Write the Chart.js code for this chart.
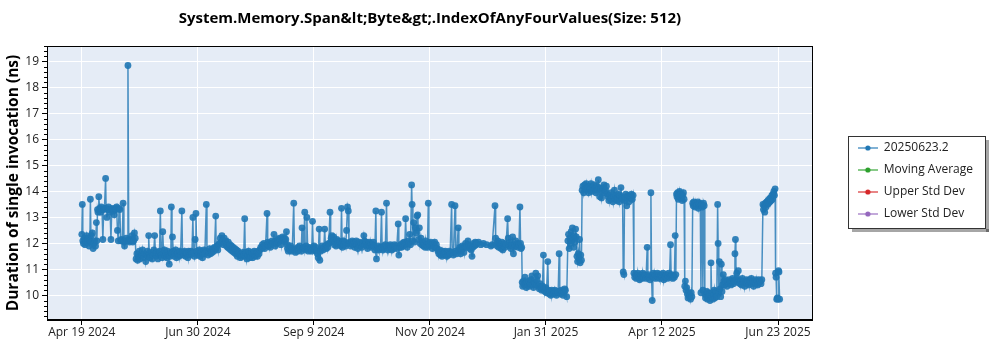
<!DOCTYPE html>
<html>
<head>
<meta charset="utf-8">
<script src="https://cdn.jsdelivr.net/npm/chart.js@4.4.1/dist/chart.umd.min.js"></script>
<style>
  html, body { margin: 0; padding: 0; background: #ffffff; }
  #wrap { width: 1000px; height: 350px; position: relative; }
</style>
</head>
<body>
<div id="wrap"><canvas id="c" width="1000" height="350"></canvas></div>
<script>
// ---------- DATA (x = days since Apr 19 2024, y = ns) ----------
const TITLE = "System.Memory.Span&lt;Byte&gt;.IndexOfAnyFourValues(Size: 512)";
const Y_TITLE = "Duration of single invocation (ns)";
const seriesLabels = ["20250623.2", "Moving Average", "Upper Std Dev", "Lower Std Dev"];
const seriesColors = ["#1f77b4", "#2ca02c", "#d62728", "#9467bd"];

const xTickDays = [0, 71.67, 143.33, 215, 286.67, 358.33, 430];
const xTickLabels = ["Apr 19 2024", "Jun 30 2024", "Sep 9 2024", "Nov 20 2024", "Jan 31 2025", "Apr 12 2025", "Jun 23 2025"];
const yTicks = [10, 11, 12, 13, 14, 15, 16, 17, 18, 19];

const phaseA = [[0,12.35],[0.3,13.5],[0.6,12.1],[1,12.0],[1.5,12.2],[2,11.95],[2.5,12.1],[3,12.3],[3.5,12.05],[4,12.2],[4.5,11.9],[5,12.1],[5.3,13.7],[5.7,12.05],[6,12.3],[6.5,12.4],[7,11.8],[7.5,12.0],[8,12.1],[8.5,11.9],[9,12.8],[9.3,12.1],[9.7,13.3],[10,13.2],[10.5,13.8],[11,13.35],[11.5,13.2],[12,13.4],[12.5,13.3],[13,12.15],[13.5,13.3],[14,13.35],[14.7,14.5],[15,13.35],[15.5,13.0],[16,13.3],[16.5,13.4],[17,13.3],[17.5,13.2],[18,12.15],[18.5,13.35],[19,13.3],[19.5,13.25],[20,13.1],[20.5,13.35],[21,13.3],[21.5,13.4],[22,12.5],[22.5,12.1],[23,13.35],[23.5,13.3],[24,12.1],[24.5,12.15],[25,12.1],[25.5,13.55],[26,12.05],[26.4,11.9],[27,12.1],[27.5,12.2],[28,12.1],[28.5,18.85],[29,12.1],[29.5,12.05],[30,12.15],[30.5,12.1],[31,12.3],[31.5,12.05],[32,12.1],[32.5,12.4],[33,12.2],[33.5,11.4]];

const phaseB = [[34,11.6],[34.5,11.35],[35,11.5],[35.5,11.7],[36,11.4],[37,11.55],[37.5,11.75],[38,11.45],[39,11.6],[39.5,11.3],[40,11.55],[40.5,11.7],[41,11.5],[41.3,12.3],[41.7,11.6],[42,11.45],[43,11.65],[43.5,11.4],[44,11.55],[44.5,11.75],[45,12.3],[45.5,11.6],[46,11.5],[46.5,11.65],[47,11.4],[47.5,11.6],[48,11.7],[48.5,13.25],[49,11.55],[49.5,11.45],[50,12.45],[50.5,11.6],[51,11.75],[51.5,11.5],[52,11.6],[52.5,11.45],[53,11.7],[53.5,11.55],[54,11.2],[54.5,11.5],[55,11.65],[55.3,13.4],[55.7,11.6],[56,12.25],[56.5,11.7],[57,11.5],[57.5,11.6],[58,11.75],[58.5,11.45],[59,11.6],[59.5,11.65],[60,11.5],[60.5,11.7],[61,11.55],[61.8,13.25],[62.2,11.65],[63,11.55],[63.5,11.7],[64,11.5],[64.5,11.65],[65,11.6],[65.5,11.45],[66,11.7],[66.5,11.6],[67,11.55],[67.5,11.7],[68,11.6],[68.6,13.0],[69,11.65],[69.5,11.5],[70,12.15],[70.5,13.15],[71,11.7],[71.5,11.55],[72,11.6],[72.5,11.75],[73,11.5],[73.5,11.65],[74,11.7],[74.5,11.45],[75,11.6],[75.5,11.75],[76,11.6],[76.9,13.5],[77.3,11.7],[78,11.55],[78.5,11.65],[79,11.8],[79.5,11.6],[80,11.7],[80.5,11.65],[81,11.8],[81.5,11.7],[82,11.85],[82.7,13.05],[83,11.8],[83.5,11.9],[84,11.75],[84.5,11.95],[85,12.0],[85.5,12.2],[86,12.05],[86.5,12.3],[87,12.1],[87.5,11.95],[88,12.2],[88.5,12.0],[89,12.1],[89.5,11.9],[90,11.85],[90.5,12.05],[91,11.8],[91.5,11.95],[92,11.75],[92.5,11.9],[93,11.7],[93.5,11.85],[94,11.65],[94.5,11.8],[95,11.6],[95.5,11.75],[96,11.5],[96.5,11.7],[97,11.6],[97.5,11.55],[98,11.45],[98.5,11.6],[99,11.5],[99.5,11.65]];

const phaseC = [[100,11.55],[100.6,12.95],[101,11.5],[101.5,11.65],[102,11.4],[102.5,11.55],[103,11.7],[103.5,11.45],[104,11.6],[104.5,11.5],[105,11.65],[105.5,11.45],[106,11.6],[106.5,11.7],[107,11.5],[107.5,11.55],[108,11.65],[108.5,11.5],[109,11.7],[109.5,11.6],[110,11.75],[110.5,11.85],[111,11.8],[111.5,11.95],[112,11.85],[112.5,12.0],[113,11.8],[113.5,11.9],[114.4,13.15],[114.8,11.95],[115,12.05],[115.5,11.9],[116,12.0],[116.5,11.85],[117,11.95],[117.5,12.1],[118,12.0],[118.7,12.35],[119,12.05],[119.5,11.9],[120,12.1],[120.5,12.0],[121,12.15],[121.5,12.05],[122,12.2],[122.5,12.1],[123,11.95],[123.5,12.15],[124,12.25],[124.5,12.1],[125,12.2],[125.5,12.05],[126,12.15],[126.4,12.45],[126.8,11.95],[127,11.8],[127.5,11.7],[128,11.85],[128.5,11.75],[129,11.9],[129.5,11.7],[130,11.8],[130.9,13.55],[131.3,11.75],[132,11.65],[132.5,11.8],[133,11.7],[133.5,11.85],[134,11.75],[134.5,11.9],[135,11.8],[135.5,11.7],[136,12.6],[136.5,11.8],[137,11.85],[137.7,13.2],[138,11.75],[138.5,11.9],[139,13.0],[139.5,11.8],[140,11.7],[140.5,11.85],[141,11.75],[141.5,11.8],[142,11.7],[142.5,12.85],[143,11.8],[143.5,11.9],[144,11.75],[144.5,11.85],[145,11.7],[145.5,11.6],[146,11.45],[146.6,12.55],[147,11.35],[147.5,11.7],[148,11.8],[148.5,11.9],[149,11.75],[149.5,11.85],[150,12.55],[150.5,11.9],[151,11.8],[151.5,11.95],[152,11.85],[152.5,12.0],[153.3,13.2],[153.7,12.05],[154,12.2],[154.5,12.3],[155,12.1],[155.5,12.25],[156,11.95],[156.5,12.05],[157,11.9],[157.5,12.15],[158,12.0],[158.5,12.1],[159,11.95],[159.5,12.05],[160,11.9],[160.4,13.35],[160.8,12.0],[161,11.85],[161.5,12.1],[162,11.95],[162.5,12.05],[163,11.9],[163.5,12.5],[164.1,13.4],[164.6,13.25],[165,12.0]];

const phaseD = [[165.5,12.05],[166,11.9],[166.5,12.0],[167,12.1],[167.5,11.95],[168,12.05],[168.5,11.85],[169,12.0],[169.5,12.1],[170,11.95],[170.5,11.8],[171,11.95],[171.5,12.05],[172,11.9],[172.5,12.0],[173,11.85],[173.5,12.0],[174.2,12.3],[174.6,12.1],[175,11.95],[175.5,12.05],[176,11.9],[176.5,11.8],[177,11.95],[177.5,12.05],[178,11.9],[178.5,12.0],[179,11.85],[179.5,11.95],[180,12.05],[180.5,11.9],[181,11.75],[181.6,13.25],[182,11.4],[182.5,11.8],[183,11.9],[183.5,11.75],[184,11.85],[184.5,11.8],[185.1,13.2],[185.5,11.85],[186,11.75],[186.5,11.9],[187,11.8],[187.5,11.95],[188.2,13.55],[188.6,11.85],[189,11.75],[189.5,11.9],[190,11.8],[190.5,11.95],[191,11.85],[191.5,11.75],[192,11.9],[192.5,11.8],[193,11.95],[193.5,11.85],[194,11.9],[194.5,11.8],[195.4,12.75],[195.8,11.55],[196.5,11.85],[197,11.95],[197.5,11.85],[198,12.0],[198.5,11.9],[199,12.05],[199.5,11.95],[200,12.95],[200.5,12.0],[201,11.85],[201.5,12.1],[202,12.0],[202.5,12.35],[203,11.95],[203.7,14.25],[204,13.5],[204.5,12.1],[205,12.8],[205.5,12.05],[206,12.6],[206.5,12.4],[207,13.05],[207.5,13.1],[208,12.15],[208.5,12.6],[209,12.0]];

const phaseE = [[209.5,12.2],[210,11.95],[210.5,12.05],[211,11.9],[211.5,12.0],[212,11.85],[212.5,12.1],[213,11.95],[213.5,11.85],[214,13.55],[214.4,12.0],[215,11.9],[215.5,12.05],[216,11.95],[216.5,11.8],[217,12.0],[217.5,11.9],[218,12.05],[218.5,11.85],[219,11.95],[219.5,11.8],[220,11.7],[220.5,11.6],[221,11.75],[221.5,11.55],[222,11.65],[222.5,11.5],[223,11.7],[223.5,11.6],[224,11.55],[224.5,11.7],[225,11.6],[225.5,11.5],[226,11.65],[226.5,11.55],[227,11.7],[227.5,11.6],[228.4,13.5],[228.8,11.65],[229.5,11.55],[230.5,13.45],[230.9,11.7],[231.5,11.6],[232.5,12.6],[232.9,11.75],[233.5,11.85],[234,11.6],[234.5,11.75],[235,11.9],[235.5,11.8],[236,11.65],[236.5,11.9],[237,12.0],[237.5,11.85],[238.5,12.1],[239,11.95],[239.5,11.8],[240,11.9],[240.5,11.75],[241,11.5],[241.5,11.85],[242,12.0],[242.5,11.9],[243,12.05],[243.5,11.95],[244,12.0],[245,12.05],[246.5,11.95],[248,12.0],[250,11.95],[252.7,11.9],[253.5,11.95],[255.2,13.45],[255.6,12.2],[256,12.0],[256.5,11.9],[257,12.1],[257.5,11.85],[258,12.0],[258.5,11.95],[259,11.8],[259.5,12.05],[260,11.75],[260.5,11.9],[261,12.0],[261.5,11.85],[262,11.95],[263,12.95],[263.4,12.2],[264,11.9],[264.5,12.05],[265,11.8],[265.5,11.95],[266.1,12.25],[266.6,11.6],[267,11.85],[267.5,11.95],[268,12.1],[268.5,11.9],[269,12.0],[269.5,11.85],[270,11.95],[270.6,13.4],[271,12.0],[271.3,11.8],[271.7,11.85]];

const phaseF = [[272,10.5],[272.3,10.35],[272.7,10.55],[273.2,10.4],[273.7,10.7],[274,10.45],[274.5,10.3],[275,10.5],[275.5,10.4],[276,10.55],[276.5,10.35],[277,10.45],[277.5,10.6],[278,10.75],[278.4,10.4],[279,10.3],[279.5,10.5],[280,10.45],[280.4,10.85],[280.8,10.4],[281.2,10.6],[281.6,10.75],[282,10.35],[282.5,10.25],[283,10.45],[283.5,10.3],[284,10.2],[284.5,10.35],[285.1,11.55],[285.5,10.25],[286,10.15],[286.5,10.3],[287,10.1],[287.8,11.3],[288.2,10.2],[288.7,10.05],[289.2,10.15],[289.7,10.0],[290.2,10.2],[290.7,10.1],[291.2,10.05],[291.7,10.15],[292.2,10.2],[292.7,10.1],[293.2,10.0],[293.7,10.15],[294.2,10.1],[294.8,11.6],[295.2,10.15],[295.7,10.05],[296.2,10.2],[296.7,10.1],[297.2,10.0],[297.7,10.15],[298.2,10.25],[298.7,10.2],[299.5,9.95]];

const phaseG = [[300.2,12.1],[300.6,12.35],[301,11.8],[301.4,12.2],[301.8,12.0],[302.2,12.45],[302.6,12.1],[303,12.6],[303.4,12.2],[303.8,11.85],[304.2,12.3],[304.6,12.05],[305,12.55],[305.4,12.25],[305.8,11.5],[306.2,11.3],[306.6,11.6],[307,11.4],[307.4,12.15],[307.8,11.25],[308.2,11.55],[308.6,11.35],[309,14.05],[309.5,14.2],[310,13.95],[310.5,14.25],[311,14.1],[311.5,14.3],[312,14.05],[312.5,14.15],[313,13.95],[313.5,14.2],[314,14.1],[314.5,14.3],[315,14.0],[315.5,14.15],[316,14.05],[316.5,14.25],[317,14.1],[317.5,13.95],[318,14.2],[318.5,14.05],[319,14.45],[319.5,14.15],[320,13.8],[320.5,14.1],[321,13.75],[321.5,14.0],[322,14.15],[322.5,14.25],[323,13.95],[323.5,14.05],[324,14.2],[324.5,13.9],[325,13.8],[325.5,13.65],[326,13.85],[326.5,13.7],[327,13.95],[327.5,13.75],[328,13.6],[328.5,13.8],[329,14.05],[329.5,13.7],[330,13.85],[330.5,13.65],[331,13.75],[331.5,13.9],[332,13.6],[332.5,13.85],[333,14.15],[333.5,13.75],[334,13.7],[334.4,10.9],[334.8,10.8],[335.2,13.65],[335.6,13.8],[336,13.9],[336.6,13.45],[337,13.75],[337.5,13.85],[338,13.6],[338.5,13.8],[339,13.75],[339.5,13.9],[340,13.7],[340.5,13.85]];

const phaseH = [[341,10.85],[341.5,10.7],[342,10.8],[342.5,10.65],[343,10.75],[343.5,10.85],[344,10.7],[344.5,10.6],[345,10.8],[345.5,10.75],[346,10.65],[346.5,10.85],[347,10.7],[347.5,10.8],[348,10.75],[348.5,10.65],[349.2,11.85],[349.6,10.7],[350,10.8],[350.5,10.7],[351,10.6],[351.5,13.95],[351.9,10.75],[352.3,9.8],[352.7,10.75],[353,10.85],[353.5,10.7],[354,10.8],[354.5,10.65],[355,10.75],[355.5,10.85],[356,10.7],[356.5,10.8],[357,10.65],[357.5,10.75],[358,10.8],[358.5,10.7],[359,10.85],[359.5,10.6],[360,10.75],[360.5,10.7],[361,10.8],[361.5,10.65],[362,10.75],[362.5,10.85],[363,10.7],[363.6,11.95],[364,10.75],[364.5,10.8],[365,10.65],[365.5,10.75],[366,10.7],[366.5,12.3],[366.9,10.8],[367.3,13.9],[367.6,13.8],[368,13.95],[368.4,13.7],[368.8,13.85],[369.2,14.0],[369.6,13.75],[370,13.9],[370.4,13.8],[370.8,13.65],[371.2,13.85],[371.6,13.95],[372,13.7],[372.4,10.35],[372.8,10.55],[373.2,10.2],[373.6,10.3],[374,10.05],[374.4,9.9],[374.8,10.1],[375.2,9.95],[375.6,10.0],[376,9.85],[376.4,10.1],[376.8,9.95],[377.3,13.55],[377.6,13.45],[378,13.6],[378.4,13.5],[378.8,13.4],[379.2,13.55],[379.6,13.45],[380,13.5],[380.4,13.6],[380.8,13.35],[381.2,13.5],[381.6,13.55],[382,13.45],[382.4,10.1],[382.8,13.5],[383.2,13.4],[383.6,10.2],[384,13.55],[384.4,13.45],[384.8,10.05],[385.2,9.9],[385.6,10.0],[386,10.15],[386.4,9.85],[386.8,10.1],[387.2,9.95],[387.6,10.05],[388,9.8],[388.6,11.25],[389,9.95],[389.4,10.1],[389.8,9.85],[390.2,10.0],[390.6,10.2],[391,9.9],[391.4,10.05],[391.8,10.15],[392.2,9.95],[392.7,13.5],[393,12.0],[393.4,10.1],[393.8,11.3],[394.2,10.25],[394.6,9.95],[395,11.2],[395.4,10.15],[395.8,10.4],[396.2,10.8]];

const phaseI = [[396.6,10.55],[397,10.4],[397.5,10.6],[398,10.5],[398.5,10.35],[399,10.55],[399.5,10.45],[400,10.6],[400.5,10.5],[401,10.4],[401.5,10.55],[402,10.65],[402.5,10.45],[403,10.55],[403.4,11.6],[403.7,12.15],[404,10.6],[404.5,10.85],[405,10.5],[405.5,10.95],[406,10.6],[406.5,10.45],[407,10.55],[407.5,10.4],[408,10.65],[408.5,10.5],[409,10.55],[409.5,10.35],[410,10.5],[410.5,10.6],[411,10.45],[411.5,10.55],[412,10.4],[412.5,10.6],[413,10.5],[413.5,10.65],[414,10.45],[414.5,10.55],[415,10.35],[415.5,10.5],[416,10.6],[416.5,10.45],[417,10.55],[417.5,10.4],[418,10.6],[418.5,10.5],[419,10.55],[419.5,10.45],[420,10.6],[420.7,13.5],[421,13.3],[421.4,13.45],[421.8,13.2],[422.2,13.55],[422.6,13.4],[423,13.6],[423.4,13.5],[423.8,13.65],[424.2,13.55],[424.6,13.7],[425,13.6],[425.4,13.75],[425.8,13.65],[426.2,13.85],[426.6,13.7],[427,13.9],[427.4,14.0],[427.8,13.85],[428.2,14.1],[428.5,10.85],[428.8,10.7],[429.2,9.85],[429.6,9.9],[430,9.85],[430.3,10.95],[430.6,10.9],[431,9.85]];

// ---------- STYLE ----------
const FONT = "'Open Sans', 'Noto Sans', sans-serif";
const PLOT_BG = "#e5ecf6";
const TEXT_COLOR = "#222222";

const mainPoints = [].concat(phaseA, phaseB, phaseC, phaseD, phaseE, phaseF, phaseG, phaseH, phaseI)
  .map(p => ({ x: p[0], y: p[1] }));

function legendIcon(color) {
  const c = document.createElement('canvas');
  c.width = 20; c.height = 8;
  const g = c.getContext('2d');
  g.globalAlpha = 0.75;
  g.strokeStyle = color; g.lineWidth = 1.5;
  g.beginPath(); g.moveTo(0, 4); g.lineTo(20, 4); g.stroke();
  g.globalAlpha = 1;
  g.fillStyle = color;
  g.beginPath(); g.arc(10, 4, 2.6, 0, Math.PI * 2); g.fill();
  return c;
}

const decorPlugin = {
  id: 'decor',
  beforeDraw(chart) {
    const { ctx, chartArea: a } = chart;
    ctx.save();
    ctx.fillStyle = PLOT_BG;
    ctx.fillRect(a.left, a.top, a.right - a.left, a.bottom - a.top);
    ctx.restore();
  },
  afterLayout(chart) {
    const lg = chart.legend;
    const a = chart.chartArea;
    const w = lg.width, h = lg.height;
    lg.left = a.right + 35; lg.right = lg.left + w;
    lg.top = a.top + 86; lg.bottom = lg.top + h;
  },
  afterDraw(chart) {
    const { ctx, chartArea: a } = chart;
    const ys = chart.scales.y;
    ctx.save();
    ctx.strokeStyle = '#000'; ctx.lineWidth = 1;
    ctx.strokeRect(Math.round(a.left) + 0.5, Math.round(a.top) + 0.5, Math.round(a.right - a.left) - 1, Math.round(a.bottom - a.top) - 1);
    ctx.beginPath();
    const minorStep = 0.2;
    for (let k = Math.ceil(ys.min / minorStep); k * minorStep <= ys.max; k++) {
      const v = k * minorStep;
      if (Math.abs(v - Math.round(v)) < 1e-6) continue;
      const py = Math.round(ys.getPixelForValue(v)) + 0.5;
      ctx.moveTo(a.left - 3, py); ctx.lineTo(a.left, py);
    }
    ctx.stroke();
    const lg = chart.legend;
    const hb = lg.legendHitBoxes;
    if (hb && hb.length) {
      const x0 = Math.round(lg.left) + 0.5;
      const y0 = Math.round(hb[0].top - 6) + 0.5;
      let maxR = 0; hb.forEach(b => { maxR = Math.max(maxR, b.left + b.width); });
      const x1 = Math.round(maxR + 12) + 0.5;
      const y1 = Math.round(hb[hb.length - 1].top + hb[hb.length - 1].height + 8) + 0.5;
      ctx.fillStyle = 'rgba(0,0,0,0.35)';
      ctx.fillRect(x1 + 0.5, y0 + 3.5, 3, y1 - y0);
      ctx.fillRect(x0 + 3.5, y1 + 0.5, x1 - x0, 3);
      ctx.strokeStyle = '#333'; ctx.lineWidth = 1;
      ctx.strokeRect(x0, y0, x1 - x0, y1 - y0);
    }
    ctx.restore();
  }
};

new Chart(document.getElementById('c'), {
  type: 'line',
  data: {
    datasets: [
      { label: seriesLabels[0], data: mainPoints, borderColor: 'rgba(31,119,180,0.8)', borderWidth: 1.5,
        pointRadius: 3.4, pointBorderWidth: 0, pointBackgroundColor: 'rgba(31,119,180,0.9)', pointStyle: 'circle', tension: 0 },
      { label: seriesLabels[1], data: [], borderColor: seriesColors[1] },
      { label: seriesLabels[2], data: [], borderColor: seriesColors[2] },
      { label: seriesLabels[3], data: [], borderColor: seriesColors[3] }
    ]
  },
  options: {
    responsive: false,
    animation: false,
    devicePixelRatio: 1,
    layout: { padding: { left: 0, right: 52, top: 0, bottom: 0 } },
    plugins: {
      title: {
        display: true, text: TITLE, fullSize: false, color: '#000',
        font: { family: FONT, size: 15, weight: 'bold' },
        padding: { top: 10, bottom: 18 }
      },
      legend: {
        display: true, position: 'right', align: 'start',
        labels: {
          usePointStyle: true, pointStyleWidth: 20, padding: 10, color: TEXT_COLOR,
          font: { family: FONT, size: 12 },
          generateLabels(chart) {
            return chart.data.datasets.map((ds, i) => ({
              text: ds.label, pointStyle: legendIcon(seriesColors[i]), fillStyle: seriesColors[i],
              strokeStyle: seriesColors[i], lineWidth: 0, hidden: false, datasetIndex: i, fontColor: TEXT_COLOR
            }));
          }
        }
      },
      tooltip: { enabled: false }
    },
    scales: {
      x: {
        type: 'linear', position: 'bottom', min: -21.5, max: 451.5,
        afterBuildTicks(scale) { scale.ticks = xTickDays.map(v => ({ value: v })); },
        afterFit(scale) { scale.height = 30; },
        ticks: { autoSkip: false, maxRotation: 0, padding: 0, color: TEXT_COLOR, font: { family: FONT, size: 12 },
          callback(value, index) { return xTickLabels[index]; } },
        grid: { color: '#ffffff', lineWidth: 1, tickColor: '#000', tickLength: 5 },
        border: { display: true, color: '#000', width: 1 }
      },
      y: {
        type: 'linear', min: 9.05, max: 19.6,
        afterBuildTicks(scale) { scale.ticks = yTicks.map(v => ({ value: v })); },
        afterFit(scale) { scale.width = 47; },
        ticks: { padding: 3, color: TEXT_COLOR, font: { family: FONT, size: 12 } },
        grid: { color: '#ffffff', lineWidth: 1, tickColor: '#000', tickLength: 5 },
        border: { display: true, color: '#000', width: 1 },
        title: { display: true, text: Y_TITLE, color: '#000', font: { family: FONT, size: 15.5, weight: 'bold' }, padding: { top: 4, bottom: 0 } }
      }
    }
  },
  plugins: [decorPlugin]
});
</script>
</body>
</html>
